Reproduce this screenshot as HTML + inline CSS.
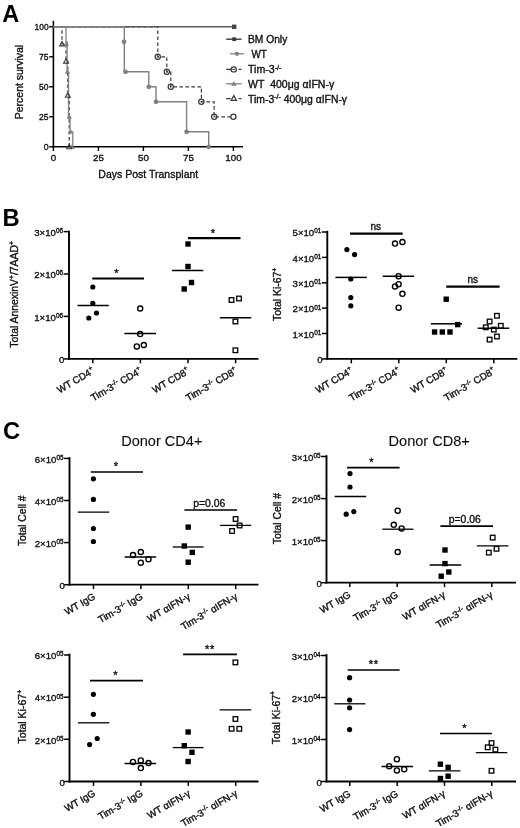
<!DOCTYPE html>
<html><head><meta charset="utf-8"><title>Figure</title>
<style>
html,body{margin:0;padding:0;background:#fff;}
svg{display:block;font-family:"Liberation Sans", sans-serif;}
</style></head>
<body>
<svg width="520" height="828" viewBox="0 0 520 828">
<defs><filter id="soft" x="0" y="0" width="520" height="828" filterUnits="userSpaceOnUse"><feGaussianBlur stdDeviation="0.4"/></filter></defs>
<rect width="520" height="828" fill="#fff"/>
<g filter="url(#soft)">
<text transform="translate(2.2 21.7)" font-size="23.5" text-anchor="start" font-weight="bold" fill="#000" stroke="#000" stroke-width="0" >A</text>
<line x1="53.4" y1="20.8" x2="53.4" y2="147.55" stroke="#000" stroke-width="1.6" />
<line x1="52.6" y1="146.8" x2="243" y2="146.8" stroke="#000" stroke-width="1.6" />
<line x1="49.2" y1="26.799999999999997" x2="53.4" y2="26.799999999999997" stroke="#000" stroke-width="1.4" />
<text transform="translate(48.6 30.199999999999996) scale(0.8657 1)" font-size="9.7" text-anchor="end" font-weight="normal" fill="#0a0a0a" stroke="#0a0a0a" stroke-width="0.32" >100</text>
<line x1="49.2" y1="56.8" x2="53.4" y2="56.8" stroke="#000" stroke-width="1.4" />
<text transform="translate(48.6 60.199999999999996) scale(0.8812 1)" font-size="9.7" text-anchor="end" font-weight="normal" fill="#0a0a0a" stroke="#0a0a0a" stroke-width="0.32" >75</text>
<line x1="49.2" y1="86.80000000000001" x2="53.4" y2="86.80000000000001" stroke="#000" stroke-width="1.4" />
<text transform="translate(48.6 90.20000000000002) scale(0.8812 1)" font-size="9.7" text-anchor="end" font-weight="normal" fill="#0a0a0a" stroke="#0a0a0a" stroke-width="0.32" >50</text>
<line x1="49.2" y1="116.80000000000001" x2="53.4" y2="116.80000000000001" stroke="#000" stroke-width="1.4" />
<text transform="translate(48.6 120.20000000000002) scale(0.8812 1)" font-size="9.7" text-anchor="end" font-weight="normal" fill="#0a0a0a" stroke="#0a0a0a" stroke-width="0.32" >25</text>
<line x1="49.2" y1="146.8" x2="53.4" y2="146.8" stroke="#000" stroke-width="1.4" />
<text transform="translate(48.6 150.20000000000002) scale(0.9090 1)" font-size="9.7" text-anchor="end" font-weight="normal" fill="#0a0a0a" stroke="#0a0a0a" stroke-width="0.32" >0</text>
<line x1="53.4" y1="146.8" x2="53.4" y2="151" stroke="#000" stroke-width="1.4" />
<text transform="translate(53.4 160.9)" font-size="9.8" text-anchor="middle" font-weight="normal" fill="#0a0a0a" stroke="#0a0a0a" stroke-width="0.32" >0</text>
<line x1="98.4" y1="146.8" x2="98.4" y2="151" stroke="#000" stroke-width="1.4" />
<text transform="translate(98.4 160.9)" font-size="9.8" text-anchor="middle" font-weight="normal" fill="#0a0a0a" stroke="#0a0a0a" stroke-width="0.32" >25</text>
<line x1="143.4" y1="146.8" x2="143.4" y2="151" stroke="#000" stroke-width="1.4" />
<text transform="translate(143.4 160.9)" font-size="9.8" text-anchor="middle" font-weight="normal" fill="#0a0a0a" stroke="#0a0a0a" stroke-width="0.32" >50</text>
<line x1="188.4" y1="146.8" x2="188.4" y2="151" stroke="#000" stroke-width="1.4" />
<text transform="translate(188.4 160.9)" font-size="9.8" text-anchor="middle" font-weight="normal" fill="#0a0a0a" stroke="#0a0a0a" stroke-width="0.32" >75</text>
<line x1="233.4" y1="146.8" x2="233.4" y2="151" stroke="#000" stroke-width="1.4" />
<text transform="translate(233.4 160.9)" font-size="9.8" text-anchor="middle" font-weight="normal" fill="#0a0a0a" stroke="#0a0a0a" stroke-width="0.32" >100</text>
<text transform="translate(22.6 82) rotate(-90) scale(0.9519 1)" font-size="11" text-anchor="middle" font-weight="normal" fill="#0a0a0a" stroke="#0a0a0a" stroke-width="0.32" >Percent survival</text>
<text transform="translate(148.3 178.4) scale(0.9744 1)" font-size="10.8" text-anchor="middle" font-weight="normal" fill="#0a0a0a" stroke="#0a0a0a" stroke-width="0.32" >Days Post Transplant</text>
<polyline fill="none" stroke="#3a3a3a" stroke-width="1.2" stroke-dasharray="3.6 2.4" points="53.4,26.8 157.8,26.8 157.8,56.8 166.8,56.8 166.8,71.8 170.8,71.8 170.8,86.8 201.4,86.8 201.4,101.8 214.1,101.8 214.1,116.8 233.4,116.8"/>
<polyline fill="none" stroke="#3a3a3a" stroke-width="1.2" stroke-dasharray="3.6 2.4" points="53.4,26.8 62.0,26.8 62.0,44.0 66.0,44.0 66.0,61.1 67.8,61.1 67.8,95.3 69.2,95.3 69.2,146.8"/>
<line x1="53.4" y1="26.8" x2="233.4" y2="26.8" stroke="#5a5a5a" stroke-width="1.4" />
<polyline fill="none" stroke="#808080" stroke-width="1.4"  points="53.4,26.8 124.3,26.8 124.3,71.8 148.8,71.8 148.8,86.8 156.0,86.8 156.0,101.8 186.6,101.8 186.6,131.8 208.7,131.8 208.7,146.8"/>
<polyline fill="none" stroke="#808080" stroke-width="1.3"  points="53.4,26.8 66.0,26.8 66.0,41.8 67.1,41.8 67.1,71.8 68.5,71.8 68.5,116.8 70.0,116.8 70.0,131.8 72.8,131.8 72.8,146.8"/>
<circle cx="123.96000000000001" cy="41.8" r="2.4" fill="#808080"/>
<circle cx="125.58000000000001" cy="71.8" r="2.4" fill="#808080"/>
<circle cx="148.8" cy="86.80000000000001" r="2.4" fill="#808080"/>
<circle cx="156.0" cy="101.80000000000001" r="2.4" fill="#808080"/>
<circle cx="186.60000000000002" cy="131.8" r="2.4" fill="#808080"/>
<circle cx="208.74" cy="146.8" r="2.4" fill="#808080"/>
<polygon points="66.36,41.39999999999999 64.16,45.35999999999999 68.56,45.35999999999999" fill="#808080" stroke="#808080" stroke-width="0.6"/>
<polygon points="67.44,69.6 65.24,73.56 69.64,73.56" fill="#808080" stroke="#808080" stroke-width="0.6"/>
<polygon points="69.24,114.60000000000001 67.03999999999999,118.56000000000002 71.44,118.56000000000002" fill="#808080" stroke="#808080" stroke-width="0.6"/>
<polygon points="70.68,129.60000000000002 68.48,133.56 72.88000000000001,133.56" fill="#808080" stroke="#808080" stroke-width="0.6"/>
<polygon points="72.12,144.60000000000002 69.92,148.56 74.32000000000001,148.56" fill="#808080" stroke="#808080" stroke-width="0.6"/>
<circle cx="157.8" cy="56.8" r="2.6" fill="none" stroke="#3a3a3a" stroke-width="1.25"/>
<circle cx="157.8" cy="56.8" r="0.8" fill="#3a3a3a"/>
<circle cx="166.8" cy="71.8" r="2.6" fill="none" stroke="#3a3a3a" stroke-width="1.25"/>
<circle cx="166.8" cy="71.8" r="0.8" fill="#3a3a3a"/>
<circle cx="170.76000000000002" cy="86.80000000000001" r="2.6" fill="none" stroke="#3a3a3a" stroke-width="1.25"/>
<circle cx="170.76000000000002" cy="86.80000000000001" r="0.8" fill="#3a3a3a"/>
<circle cx="201.36" cy="101.80000000000001" r="2.6" fill="none" stroke="#3a3a3a" stroke-width="1.25"/>
<circle cx="201.36" cy="101.80000000000001" r="0.8" fill="#3a3a3a"/>
<circle cx="214.14000000000001" cy="116.80000000000001" r="2.6" fill="none" stroke="#3a3a3a" stroke-width="1.25"/>
<circle cx="214.14000000000001" cy="116.80000000000001" r="0.8" fill="#3a3a3a"/>
<circle cx="233.4" cy="116.80000000000001" r="2.6" fill="#fff" stroke="#3a3a3a" stroke-width="1.25"/>
<polygon points="62.04,41.50999999999999 59.589999999999996,45.919999999999995 64.49,45.919999999999995" fill="none" stroke="#3a3a3a" stroke-width="1.1"/>
<polygon points="66.0,58.66999999999999 63.55,63.07999999999999 68.45,63.07999999999999" fill="none" stroke="#3a3a3a" stroke-width="1.1"/>
<polygon points="67.8,92.87000000000002 65.35,97.28000000000002 70.25,97.28000000000002" fill="none" stroke="#3a3a3a" stroke-width="1.1"/>
<polygon points="69.24,144.35000000000002 66.78999999999999,148.76000000000002 71.69,148.76000000000002" fill="none" stroke="#3a3a3a" stroke-width="1.1"/>
<rect x="232.00000000000003" y="24.6" width="4.4" height="4.4" fill="#444"/>
<line x1="226.2" y1="39.2" x2="241.5" y2="39.2" stroke="#3a3a3a" stroke-width="1.4" />
<rect x="232.29999999999998" y="37.300000000000004" width="3.8" height="3.8" fill="#3a3a3a"/>
<text transform="translate(248 42.900000000000006) scale(0.9864 1)" font-size="10.4" text-anchor="start" font-weight="normal" fill="#0a0a0a" stroke="#0a0a0a" stroke-width="0.32" >BM Only</text>
<line x1="230" y1="53.8" x2="243.8" y2="53.8" stroke="#808080" stroke-width="1.3" />
<circle cx="236.9" cy="53.8" r="2.1" fill="#808080"/>
<text transform="translate(251.5 57.699999999999996) scale(0.9532 1)" font-size="10.4" text-anchor="start" font-weight="normal" fill="#0a0a0a" stroke="#0a0a0a" stroke-width="0.32" >WT</text>
<line x1="226.2" y1="69.4" x2="231.1" y2="69.4" stroke="#3a3a3a" stroke-width="1.3" />
<line x1="238.6" y1="69.4" x2="241.5" y2="69.4" stroke="#3a3a3a" stroke-width="1.3" />
<circle cx="233.7" cy="69.4" r="2.6" fill="none" stroke="#3a3a3a" stroke-width="1.2"/>
<line x1="232.2" y1="69.4" x2="235.2" y2="69.4" stroke="#3a3a3a" stroke-width="1.0" />
<text transform="translate(248 73.10000000000001) scale(1.0219 1)" font-size="10.4" text-anchor="start" font-weight="normal" fill="#0a0a0a" stroke="#0a0a0a" stroke-width="0.32" >Tim-3<tspan font-size="7" dy="-3.6">-/-</tspan><tspan dy="3.6" font-size="1">&#8203;</tspan></text>
<line x1="226.2" y1="83.8" x2="241.5" y2="83.8" stroke="#808080" stroke-width="1.3" />
<polygon points="233.8,81.6 231.60000000000002,85.56 236.0,85.56" fill="#808080" stroke="#808080" stroke-width="0.6"/>
<text transform="translate(248 87.7) scale(1.0102 1)" font-size="10.4" text-anchor="start" font-weight="normal" fill="#0a0a0a" stroke="#0a0a0a" stroke-width="0.32" >WT&#160; 400&#956;g &#945;IFN-&#947;</text>
<line x1="226.2" y1="98.6" x2="230.6" y2="98.6" stroke="#3a3a3a" stroke-width="1.3" />
<line x1="238.6" y1="98.6" x2="241.5" y2="98.6" stroke="#3a3a3a" stroke-width="1.3" />
<polygon points="233.8,95.6 231.10000000000002,100.46 236.5,100.46" fill="none" stroke="#3a3a3a" stroke-width="1.2"/>
<text transform="translate(248 102.5)" font-size="10.4" text-anchor="start" font-weight="normal" fill="#0a0a0a" stroke="#0a0a0a" stroke-width="0.32" >Tim-3<tspan font-size="7" dy="-3.6">-/-</tspan><tspan dy="3.6" font-size="1">&#8203;</tspan> 400&#956;g &#945;IFN-&#947;</text>
<text transform="translate(2.6 226)" font-size="23.8" text-anchor="start" font-weight="bold" fill="#000" stroke="#000" stroke-width="0" >B</text>
<line x1="69" y1="230.79999999999998" x2="69" y2="359.79999999999995" stroke="#000" stroke-width="1.9" />
<line x1="68.05" y1="358.9" x2="258.5" y2="358.9" stroke="#000" stroke-width="1.8" />
<line x1="63.6" y1="231.6" x2="69" y2="231.6" stroke="#000" stroke-width="1.5" />
<text transform="translate(63.0 235.79999999999998)" font-size="9.6" text-anchor="end" font-weight="normal" fill="#0a0a0a" stroke="#0a0a0a" stroke-width="0.32" >3&#215;10<tspan font-size="6.4" dy="-2.8">06</tspan><tspan dy="2.8" font-size="1">&#8203;</tspan></text>
<line x1="63.6" y1="274" x2="69" y2="274" stroke="#000" stroke-width="1.5" />
<text transform="translate(63.0 278.2)" font-size="9.6" text-anchor="end" font-weight="normal" fill="#0a0a0a" stroke="#0a0a0a" stroke-width="0.32" >2&#215;10<tspan font-size="6.4" dy="-2.8">06</tspan><tspan dy="2.8" font-size="1">&#8203;</tspan></text>
<line x1="63.6" y1="316.4" x2="69" y2="316.4" stroke="#000" stroke-width="1.5" />
<text transform="translate(63.0 320.59999999999997)" font-size="9.6" text-anchor="end" font-weight="normal" fill="#0a0a0a" stroke="#0a0a0a" stroke-width="0.32" >1&#215;10<tspan font-size="6.4" dy="-2.8">06</tspan><tspan dy="2.8" font-size="1">&#8203;</tspan></text>
<line x1="63.6" y1="358.9" x2="69" y2="358.9" stroke="#000" stroke-width="1.5" />
<text transform="translate(64.4 363.09999999999997)" font-size="9.6" text-anchor="end" font-weight="normal" fill="#0a0a0a" stroke="#0a0a0a" stroke-width="0.32" >0</text>
<line x1="92.8" y1="358.9" x2="92.8" y2="363.29999999999995" stroke="#000" stroke-width="1.5" />
<line x1="140.4" y1="358.9" x2="140.4" y2="363.29999999999995" stroke="#000" stroke-width="1.5" />
<line x1="188" y1="358.9" x2="188" y2="363.29999999999995" stroke="#000" stroke-width="1.5" />
<line x1="235.6" y1="358.9" x2="235.6" y2="363.29999999999995" stroke="#000" stroke-width="1.5" />
<line x1="77.5" y1="305.5" x2="108.8" y2="305.5" stroke="#000" stroke-width="1.5" />
<line x1="124.4" y1="333.5" x2="156" y2="333.5" stroke="#000" stroke-width="1.5" />
<line x1="171.8" y1="270.5" x2="203.3" y2="270.5" stroke="#000" stroke-width="1.5" />
<line x1="219.8" y1="317.7" x2="251.2" y2="317.7" stroke="#000" stroke-width="1.5" />
<circle cx="92.8" cy="287" r="2.6" fill="#000"/>
<circle cx="92.8" cy="303.3" r="2.6" fill="#000"/>
<circle cx="96.5" cy="313" r="2.6" fill="#000"/>
<circle cx="88.8" cy="318" r="2.6" fill="#000"/>
<circle cx="140.2" cy="308.5" r="2.55" fill="none" stroke="#000" stroke-width="1.4"/>
<circle cx="140.2" cy="334.1" r="2.55" fill="none" stroke="#000" stroke-width="1.4"/>
<circle cx="143.8" cy="345" r="2.55" fill="none" stroke="#000" stroke-width="1.4"/>
<circle cx="136.8" cy="346.4" r="2.55" fill="none" stroke="#000" stroke-width="1.4"/>
<rect x="185.3" y="241.3" width="5.4" height="5.4" fill="#000"/>
<rect x="185.3" y="263.8" width="5.4" height="5.4" fill="#000"/>
<rect x="188.8" y="279.8" width="5.4" height="5.4" fill="#000"/>
<rect x="181.5" y="286.3" width="5.4" height="5.4" fill="#000"/>
<rect x="229.2" y="297.7" width="4.6" height="4.6" fill="none" stroke="#000" stroke-width="1.3"/>
<rect x="236.7" y="296.2" width="4.6" height="4.6" fill="none" stroke="#000" stroke-width="1.3"/>
<rect x="233.1" y="319.2" width="4.6" height="4.6" fill="none" stroke="#000" stroke-width="1.3"/>
<rect x="233.1" y="348.0" width="4.6" height="4.6" fill="none" stroke="#000" stroke-width="1.3"/>
<line x1="92.3" y1="278.5" x2="144" y2="278.5" stroke="#000" stroke-width="2.2" />
<text transform="translate(116.5 277)" font-size="11" text-anchor="middle" font-weight="normal" fill="#0a0a0a" stroke="#0a0a0a" stroke-width="0.32" >*</text>
<line x1="188" y1="238.2" x2="240.5" y2="238.2" stroke="#000" stroke-width="2.2" />
<text transform="translate(213 237)" font-size="11" text-anchor="middle" font-weight="normal" fill="#0a0a0a" stroke="#0a0a0a" stroke-width="0.32" >*</text>
<text transform="translate(18.4 294.4) rotate(-90) scale(1.0392 1)" font-size="10" text-anchor="middle" font-weight="normal" fill="#0a0a0a" stroke="#0a0a0a" stroke-width="0.32" >Total AnnexinV<tspan font-size="6.5" dy="-4.3">+</tspan><tspan dy="4.3" font-size="1">&#8203;</tspan>/7AAD<tspan font-size="6.5" dy="-4.3">+</tspan><tspan dy="4.3" font-size="1">&#8203;</tspan></text>
<text transform="translate(95.1 372.79999999999995) rotate(-30)" font-size="9.8" text-anchor="end" font-weight="normal" fill="#0a0a0a" stroke="#0a0a0a" stroke-width="0.32" >WT CD4<tspan font-size="6.5" dy="-4.3">+</tspan><tspan dy="4.3" font-size="1">&#8203;</tspan></text>
<text transform="translate(142.7 372.79999999999995) rotate(-30)" font-size="9.8" text-anchor="end" font-weight="normal" fill="#0a0a0a" stroke="#0a0a0a" stroke-width="0.32" >Tim-3<tspan font-size="6.8" dy="-3.4">-/-</tspan><tspan dy="3.4" font-size="1">&#8203;</tspan> CD4<tspan font-size="6.5" dy="-4.3">+</tspan><tspan dy="4.3" font-size="1">&#8203;</tspan></text>
<text transform="translate(190.29999999999998 372.79999999999995) rotate(-30)" font-size="9.8" text-anchor="end" font-weight="normal" fill="#0a0a0a" stroke="#0a0a0a" stroke-width="0.32" >WT CD8<tspan font-size="6.5" dy="-4.3">+</tspan><tspan dy="4.3" font-size="1">&#8203;</tspan></text>
<text transform="translate(237.89999999999998 372.79999999999995) rotate(-30)" font-size="9.8" text-anchor="end" font-weight="normal" fill="#0a0a0a" stroke="#0a0a0a" stroke-width="0.32" >Tim-3<tspan font-size="6.8" dy="-3.4">-/-</tspan><tspan dy="3.4" font-size="1">&#8203;</tspan> CD8<tspan font-size="6.5" dy="-4.3">+</tspan><tspan dy="4.3" font-size="1">&#8203;</tspan></text>
<line x1="327.3" y1="230.79999999999998" x2="327.3" y2="359.79999999999995" stroke="#000" stroke-width="1.9" />
<line x1="326.35" y1="358.9" x2="517.3" y2="358.9" stroke="#000" stroke-width="1.8" />
<line x1="321.90000000000003" y1="232" x2="327.3" y2="232" stroke="#000" stroke-width="1.5" />
<text transform="translate(321.3 236.2)" font-size="9.6" text-anchor="end" font-weight="normal" fill="#0a0a0a" stroke="#0a0a0a" stroke-width="0.32" >5&#215;10<tspan font-size="6.4" dy="-2.8">01</tspan><tspan dy="2.8" font-size="1">&#8203;</tspan></text>
<line x1="321.90000000000003" y1="257.4" x2="327.3" y2="257.4" stroke="#000" stroke-width="1.5" />
<text transform="translate(321.3 261.59999999999997)" font-size="9.6" text-anchor="end" font-weight="normal" fill="#0a0a0a" stroke="#0a0a0a" stroke-width="0.32" >4&#215;10<tspan font-size="6.4" dy="-2.8">01</tspan><tspan dy="2.8" font-size="1">&#8203;</tspan></text>
<line x1="321.90000000000003" y1="282.8" x2="327.3" y2="282.8" stroke="#000" stroke-width="1.5" />
<text transform="translate(321.3 287.0)" font-size="9.6" text-anchor="end" font-weight="normal" fill="#0a0a0a" stroke="#0a0a0a" stroke-width="0.32" >3&#215;10<tspan font-size="6.4" dy="-2.8">01</tspan><tspan dy="2.8" font-size="1">&#8203;</tspan></text>
<line x1="321.90000000000003" y1="308.1" x2="327.3" y2="308.1" stroke="#000" stroke-width="1.5" />
<text transform="translate(321.3 312.3)" font-size="9.6" text-anchor="end" font-weight="normal" fill="#0a0a0a" stroke="#0a0a0a" stroke-width="0.32" >2&#215;10<tspan font-size="6.4" dy="-2.8">01</tspan><tspan dy="2.8" font-size="1">&#8203;</tspan></text>
<line x1="321.90000000000003" y1="333.5" x2="327.3" y2="333.5" stroke="#000" stroke-width="1.5" />
<text transform="translate(321.3 337.7)" font-size="9.6" text-anchor="end" font-weight="normal" fill="#0a0a0a" stroke="#0a0a0a" stroke-width="0.32" >1&#215;10<tspan font-size="6.4" dy="-2.8">01</tspan><tspan dy="2.8" font-size="1">&#8203;</tspan></text>
<line x1="321.90000000000003" y1="358.9" x2="327.3" y2="358.9" stroke="#000" stroke-width="1.5" />
<text transform="translate(322.7 363.09999999999997)" font-size="9.6" text-anchor="end" font-weight="normal" fill="#0a0a0a" stroke="#0a0a0a" stroke-width="0.32" >0</text>
<line x1="351.3" y1="358.9" x2="351.3" y2="363.29999999999995" stroke="#000" stroke-width="1.5" />
<line x1="398.8" y1="358.9" x2="398.8" y2="363.29999999999995" stroke="#000" stroke-width="1.5" />
<line x1="446.3" y1="358.9" x2="446.3" y2="363.29999999999995" stroke="#000" stroke-width="1.5" />
<line x1="493.8" y1="358.9" x2="493.8" y2="363.29999999999995" stroke="#000" stroke-width="1.5" />
<line x1="335.4" y1="277.4" x2="366.9" y2="277.4" stroke="#000" stroke-width="1.5" />
<line x1="382.7" y1="276.3" x2="414.2" y2="276.3" stroke="#000" stroke-width="1.5" />
<line x1="430.8" y1="323.8" x2="462" y2="323.8" stroke="#000" stroke-width="1.5" />
<line x1="477.7" y1="328.2" x2="509.2" y2="328.2" stroke="#000" stroke-width="1.5" />
<circle cx="346.9" cy="249.6" r="2.6" fill="#000"/>
<circle cx="354.6" cy="254.6" r="2.6" fill="#000"/>
<circle cx="350.8" cy="279" r="2.6" fill="#000"/>
<circle cx="350.8" cy="297.6" r="2.6" fill="#000"/>
<circle cx="350.8" cy="305.8" r="2.6" fill="#000"/>
<circle cx="395" cy="243.6" r="2.55" fill="none" stroke="#000" stroke-width="1.4"/>
<circle cx="402.4" cy="242" r="2.55" fill="none" stroke="#000" stroke-width="1.4"/>
<circle cx="398.6" cy="276.2" r="2.55" fill="none" stroke="#000" stroke-width="1.4"/>
<circle cx="398.6" cy="284.2" r="2.55" fill="none" stroke="#000" stroke-width="1.4"/>
<circle cx="395" cy="286.4" r="2.55" fill="none" stroke="#000" stroke-width="1.4"/>
<circle cx="402.4" cy="293.8" r="2.55" fill="none" stroke="#000" stroke-width="1.4"/>
<circle cx="398.6" cy="307.7" r="2.55" fill="none" stroke="#000" stroke-width="1.4"/>
<rect x="443.5" y="296.5" width="5.4" height="5.4" fill="#000"/>
<rect x="455.0" y="321.90000000000003" width="5.4" height="5.4" fill="#000"/>
<rect x="431.90000000000003" y="329.3" width="5.4" height="5.4" fill="#000"/>
<rect x="439.6" y="329.3" width="5.4" height="5.4" fill="#000"/>
<rect x="447.3" y="329.3" width="5.4" height="5.4" fill="#000"/>
<rect x="494.59999999999997" y="313.5" width="4.6" height="4.6" fill="none" stroke="#000" stroke-width="1.3"/>
<rect x="487.3" y="319.2" width="4.6" height="4.6" fill="none" stroke="#000" stroke-width="1.3"/>
<rect x="498.5" y="323.5" width="4.6" height="4.6" fill="none" stroke="#000" stroke-width="1.3"/>
<rect x="483.5" y="325.0" width="4.6" height="4.6" fill="none" stroke="#000" stroke-width="1.3"/>
<rect x="491.5" y="327.3" width="4.6" height="4.6" fill="none" stroke="#000" stroke-width="1.3"/>
<rect x="494.59999999999997" y="334.2" width="4.6" height="4.6" fill="none" stroke="#000" stroke-width="1.3"/>
<rect x="487.3" y="337.3" width="4.6" height="4.6" fill="none" stroke="#000" stroke-width="1.3"/>
<line x1="350" y1="233.7" x2="402.7" y2="233.7" stroke="#000" stroke-width="2.2" />
<text transform="translate(375.8 229.6)" font-size="10" text-anchor="middle" font-weight="normal" fill="#0a0a0a" stroke="#0a0a0a" stroke-width="0.32" >ns</text>
<line x1="446.2" y1="286.6" x2="499.6" y2="286.6" stroke="#000" stroke-width="2.2" />
<text transform="translate(472.8 282.6)" font-size="10" text-anchor="middle" font-weight="normal" fill="#0a0a0a" stroke="#0a0a0a" stroke-width="0.32" >ns</text>
<text transform="translate(281 294.4) rotate(-90) scale(1.0461 1)" font-size="10" text-anchor="middle" font-weight="normal" fill="#0a0a0a" stroke="#0a0a0a" stroke-width="0.32" >Total Ki-67<tspan font-size="6.5" dy="-4.3">+</tspan><tspan dy="4.3" font-size="1">&#8203;</tspan></text>
<text transform="translate(353.6 372.79999999999995) rotate(-30)" font-size="9.8" text-anchor="end" font-weight="normal" fill="#0a0a0a" stroke="#0a0a0a" stroke-width="0.32" >WT CD4<tspan font-size="6.5" dy="-4.3">+</tspan><tspan dy="4.3" font-size="1">&#8203;</tspan></text>
<text transform="translate(401.1 372.79999999999995) rotate(-30)" font-size="9.8" text-anchor="end" font-weight="normal" fill="#0a0a0a" stroke="#0a0a0a" stroke-width="0.32" >Tim-3<tspan font-size="6.8" dy="-3.4">-/-</tspan><tspan dy="3.4" font-size="1">&#8203;</tspan> CD4<tspan font-size="6.5" dy="-4.3">+</tspan><tspan dy="4.3" font-size="1">&#8203;</tspan></text>
<text transform="translate(448.6 372.79999999999995) rotate(-30)" font-size="9.8" text-anchor="end" font-weight="normal" fill="#0a0a0a" stroke="#0a0a0a" stroke-width="0.32" >WT CD8<tspan font-size="6.5" dy="-4.3">+</tspan><tspan dy="4.3" font-size="1">&#8203;</tspan></text>
<text transform="translate(496.1 372.79999999999995) rotate(-30)" font-size="9.8" text-anchor="end" font-weight="normal" fill="#0a0a0a" stroke="#0a0a0a" stroke-width="0.32" >Tim-3<tspan font-size="6.8" dy="-3.4">-/-</tspan><tspan dy="3.4" font-size="1">&#8203;</tspan> CD8<tspan font-size="6.5" dy="-4.3">+</tspan><tspan dy="4.3" font-size="1">&#8203;</tspan></text>
<text transform="translate(3.0 438.7)" font-size="23.8" text-anchor="start" font-weight="bold" fill="#000" stroke="#000" stroke-width="0" >C</text>
<line x1="69.5" y1="457.2" x2="69.5" y2="585.6" stroke="#000" stroke-width="1.9" />
<line x1="68.55" y1="584.7" x2="258.5" y2="584.7" stroke="#000" stroke-width="1.8" />
<line x1="64.1" y1="458.4" x2="69.5" y2="458.4" stroke="#000" stroke-width="1.5" />
<text transform="translate(63.5 462.59999999999997)" font-size="9.6" text-anchor="end" font-weight="normal" fill="#0a0a0a" stroke="#0a0a0a" stroke-width="0.32" >6&#215;10<tspan font-size="6.4" dy="-2.8">05</tspan><tspan dy="2.8" font-size="1">&#8203;</tspan></text>
<line x1="64.1" y1="500.5" x2="69.5" y2="500.5" stroke="#000" stroke-width="1.5" />
<text transform="translate(63.5 504.7)" font-size="9.6" text-anchor="end" font-weight="normal" fill="#0a0a0a" stroke="#0a0a0a" stroke-width="0.32" >4&#215;10<tspan font-size="6.4" dy="-2.8">05</tspan><tspan dy="2.8" font-size="1">&#8203;</tspan></text>
<line x1="64.1" y1="542.6" x2="69.5" y2="542.6" stroke="#000" stroke-width="1.5" />
<text transform="translate(63.5 546.8000000000001)" font-size="9.6" text-anchor="end" font-weight="normal" fill="#0a0a0a" stroke="#0a0a0a" stroke-width="0.32" >2&#215;10<tspan font-size="6.4" dy="-2.8">05</tspan><tspan dy="2.8" font-size="1">&#8203;</tspan></text>
<line x1="64.1" y1="584.7" x2="69.5" y2="584.7" stroke="#000" stroke-width="1.5" />
<text transform="translate(64.9 588.9000000000001)" font-size="9.6" text-anchor="end" font-weight="normal" fill="#0a0a0a" stroke="#0a0a0a" stroke-width="0.32" >0</text>
<line x1="93.5" y1="584.7" x2="93.5" y2="589.1" stroke="#000" stroke-width="1.5" />
<line x1="140.9" y1="584.7" x2="140.9" y2="589.1" stroke="#000" stroke-width="1.5" />
<line x1="188.3" y1="584.7" x2="188.3" y2="589.1" stroke="#000" stroke-width="1.5" />
<line x1="235.7" y1="584.7" x2="235.7" y2="589.1" stroke="#000" stroke-width="1.5" />
<line x1="77.8" y1="512.2" x2="109.2" y2="512.2" stroke="#000" stroke-width="1.3" />
<line x1="124.6" y1="557" x2="156.2" y2="557" stroke="#000" stroke-width="1.3" />
<line x1="172.7" y1="547" x2="203.6" y2="547" stroke="#000" stroke-width="1.3" />
<line x1="220" y1="525.4" x2="251.2" y2="525.4" stroke="#000" stroke-width="1.3" />
<circle cx="93.4" cy="478.8" r="2.6" fill="#000"/>
<circle cx="93.4" cy="499.4" r="2.6" fill="#000"/>
<circle cx="93.4" cy="528.5" r="2.6" fill="#000"/>
<circle cx="93.4" cy="541.5" r="2.6" fill="#000"/>
<circle cx="133" cy="555" r="2.55" fill="none" stroke="#000" stroke-width="1.4"/>
<circle cx="140.8" cy="552" r="2.55" fill="none" stroke="#000" stroke-width="1.4"/>
<circle cx="148.5" cy="559.2" r="2.55" fill="none" stroke="#000" stroke-width="1.4"/>
<circle cx="140.8" cy="562.7" r="2.55" fill="none" stroke="#000" stroke-width="1.4"/>
<rect x="185.5" y="524.4" width="5.4" height="5.4" fill="#000"/>
<rect x="181.60000000000002" y="543.3" width="5.4" height="5.4" fill="#000"/>
<rect x="189.60000000000002" y="549.6999999999999" width="5.4" height="5.4" fill="#000"/>
<rect x="185.5" y="559.5" width="5.4" height="5.4" fill="#000"/>
<rect x="233.29999999999998" y="516.7" width="4.6" height="4.6" fill="none" stroke="#000" stroke-width="1.3"/>
<rect x="237.29999999999998" y="523.2" width="4.6" height="4.6" fill="none" stroke="#000" stroke-width="1.3"/>
<rect x="229.79999999999998" y="528.7" width="4.6" height="4.6" fill="none" stroke="#000" stroke-width="1.3"/>
<line x1="90.8" y1="472" x2="143" y2="472" stroke="#000" stroke-width="1.7" />
<text transform="translate(115.8 470.4)" font-size="11" text-anchor="middle" font-weight="normal" fill="#0a0a0a" stroke="#0a0a0a" stroke-width="0.32" >*</text>
<line x1="184.4" y1="510" x2="237.1" y2="510" stroke="#000" stroke-width="1.7" />
<text transform="translate(209.3 506.6)" font-size="10.4" text-anchor="middle" font-weight="normal" fill="#0a0a0a" stroke="#0a0a0a" stroke-width="0.32" >p=0.06</text>
<text transform="translate(25.7 520.8) rotate(-90) scale(1.0249 1)" font-size="10" text-anchor="middle" font-weight="normal" fill="#0a0a0a" stroke="#0a0a0a" stroke-width="0.32" >Total Cell #</text>
<text transform="translate(96.1 598.5000000000001) rotate(-30)" font-size="9.8" text-anchor="end" font-weight="normal" fill="#0a0a0a" stroke="#0a0a0a" stroke-width="0.32" >WT IgG</text>
<text transform="translate(143.5 598.5000000000001) rotate(-30)" font-size="9.8" text-anchor="end" font-weight="normal" fill="#0a0a0a" stroke="#0a0a0a" stroke-width="0.32" >Tim-3<tspan font-size="6.8" dy="-3.4">-/-</tspan><tspan dy="3.4" font-size="1">&#8203;</tspan> IgG</text>
<text transform="translate(190.9 598.5000000000001) rotate(-30)" font-size="9.8" text-anchor="end" font-weight="normal" fill="#0a0a0a" stroke="#0a0a0a" stroke-width="0.32" >WT &#945;IFN-&#947;</text>
<text transform="translate(238.29999999999998 598.5000000000001) rotate(-30)" font-size="9.8" text-anchor="end" font-weight="normal" fill="#0a0a0a" stroke="#0a0a0a" stroke-width="0.32" >Tim-3<tspan font-size="6.8" dy="-3.4">-/-</tspan><tspan dy="3.4" font-size="1">&#8203;</tspan> &#945;IFN-&#947;</text>
<text transform="translate(161.8 446.3) scale(1.0396 1)" font-size="14" text-anchor="middle" font-weight="normal" fill="#111" stroke="#111" stroke-width="0.1" >Donor CD4+</text>
<line x1="326.5" y1="455.2" x2="326.5" y2="583.6" stroke="#000" stroke-width="1.9" />
<line x1="325.55" y1="582.7" x2="516" y2="582.7" stroke="#000" stroke-width="1.8" />
<line x1="321.1" y1="456.5" x2="326.5" y2="456.5" stroke="#000" stroke-width="1.5" />
<text transform="translate(320.5 460.7)" font-size="9.6" text-anchor="end" font-weight="normal" fill="#0a0a0a" stroke="#0a0a0a" stroke-width="0.32" >3&#215;10<tspan font-size="6.4" dy="-2.8">05</tspan><tspan dy="2.8" font-size="1">&#8203;</tspan></text>
<line x1="321.1" y1="498.6" x2="326.5" y2="498.6" stroke="#000" stroke-width="1.5" />
<text transform="translate(320.5 502.8)" font-size="9.6" text-anchor="end" font-weight="normal" fill="#0a0a0a" stroke="#0a0a0a" stroke-width="0.32" >2&#215;10<tspan font-size="6.4" dy="-2.8">05</tspan><tspan dy="2.8" font-size="1">&#8203;</tspan></text>
<line x1="321.1" y1="540.6" x2="326.5" y2="540.6" stroke="#000" stroke-width="1.5" />
<text transform="translate(320.5 544.8000000000001)" font-size="9.6" text-anchor="end" font-weight="normal" fill="#0a0a0a" stroke="#0a0a0a" stroke-width="0.32" >1&#215;10<tspan font-size="6.4" dy="-2.8">05</tspan><tspan dy="2.8" font-size="1">&#8203;</tspan></text>
<line x1="321.1" y1="582.7" x2="326.5" y2="582.7" stroke="#000" stroke-width="1.5" />
<text transform="translate(321.9 586.9000000000001)" font-size="9.6" text-anchor="end" font-weight="normal" fill="#0a0a0a" stroke="#0a0a0a" stroke-width="0.32" >0</text>
<line x1="349.8" y1="582.7" x2="349.8" y2="587.1" stroke="#000" stroke-width="1.5" />
<line x1="397.2" y1="582.7" x2="397.2" y2="587.1" stroke="#000" stroke-width="1.5" />
<line x1="444.5" y1="582.7" x2="444.5" y2="587.1" stroke="#000" stroke-width="1.5" />
<line x1="491.8" y1="582.7" x2="491.8" y2="587.1" stroke="#000" stroke-width="1.5" />
<line x1="334.6" y1="496.5" x2="366.2" y2="496.5" stroke="#000" stroke-width="1.3" />
<line x1="382.3" y1="529.2" x2="413.5" y2="529.2" stroke="#000" stroke-width="1.3" />
<line x1="429.6" y1="565" x2="461.2" y2="565" stroke="#000" stroke-width="1.3" />
<line x1="476.9" y1="545.8" x2="508.4" y2="545.8" stroke="#000" stroke-width="1.3" />
<circle cx="350" cy="473.6" r="2.6" fill="#000"/>
<circle cx="350" cy="487" r="2.6" fill="#000"/>
<circle cx="353.8" cy="511.6" r="2.6" fill="#000"/>
<circle cx="346.2" cy="514.2" r="2.6" fill="#000"/>
<circle cx="397.7" cy="510.7" r="2.55" fill="none" stroke="#000" stroke-width="1.4"/>
<circle cx="393.8" cy="524.8" r="2.55" fill="none" stroke="#000" stroke-width="1.4"/>
<circle cx="401.6" cy="528.4" r="2.55" fill="none" stroke="#000" stroke-width="1.4"/>
<circle cx="397.7" cy="552" r="2.55" fill="none" stroke="#000" stroke-width="1.4"/>
<rect x="442.3" y="547.3" width="5.4" height="5.4" fill="#000"/>
<rect x="442.3" y="560.9" width="5.4" height="5.4" fill="#000"/>
<rect x="446.1" y="569.3" width="5.4" height="5.4" fill="#000"/>
<rect x="438.5" y="573.5" width="5.4" height="5.4" fill="#000"/>
<rect x="490.4" y="535.3000000000001" width="4.6" height="4.6" fill="none" stroke="#000" stroke-width="1.3"/>
<rect x="494.2" y="546.5" width="4.6" height="4.6" fill="none" stroke="#000" stroke-width="1.3"/>
<rect x="486.5" y="550.3000000000001" width="4.6" height="4.6" fill="none" stroke="#000" stroke-width="1.3"/>
<line x1="347" y1="467.6" x2="399.6" y2="467.6" stroke="#000" stroke-width="1.7" />
<text transform="translate(371.4 466)" font-size="11" text-anchor="middle" font-weight="normal" fill="#0a0a0a" stroke="#0a0a0a" stroke-width="0.32" >*</text>
<line x1="440.4" y1="526.2" x2="493" y2="526.2" stroke="#000" stroke-width="1.7" />
<text transform="translate(464.8 522.6)" font-size="10.4" text-anchor="middle" font-weight="normal" fill="#0a0a0a" stroke="#0a0a0a" stroke-width="0.32" >p=0.06</text>
<text transform="translate(281.4 518.6) rotate(-90) scale(1.0350 1)" font-size="10" text-anchor="middle" font-weight="normal" fill="#0a0a0a" stroke="#0a0a0a" stroke-width="0.32" >Total Cell #</text>
<text transform="translate(351.40000000000003 596.8000000000001) rotate(-30)" font-size="9.8" text-anchor="end" font-weight="normal" fill="#0a0a0a" stroke="#0a0a0a" stroke-width="0.32" >WT IgG</text>
<text transform="translate(398.8 596.8000000000001) rotate(-30)" font-size="9.8" text-anchor="end" font-weight="normal" fill="#0a0a0a" stroke="#0a0a0a" stroke-width="0.32" >Tim-3<tspan font-size="6.8" dy="-3.4">-/-</tspan><tspan dy="3.4" font-size="1">&#8203;</tspan> IgG</text>
<text transform="translate(446.1 596.8000000000001) rotate(-30)" font-size="9.8" text-anchor="end" font-weight="normal" fill="#0a0a0a" stroke="#0a0a0a" stroke-width="0.32" >WT &#945;IFN-&#947;</text>
<text transform="translate(493.40000000000003 596.8000000000001) rotate(-30)" font-size="9.8" text-anchor="end" font-weight="normal" fill="#0a0a0a" stroke="#0a0a0a" stroke-width="0.32" >Tim-3<tspan font-size="6.8" dy="-3.4">-/-</tspan><tspan dy="3.4" font-size="1">&#8203;</tspan> &#945;IFN-&#947;</text>
<text transform="translate(429.2 446) scale(1.0396 1)" font-size="14" text-anchor="middle" font-weight="normal" fill="#111" stroke="#111" stroke-width="0.1" >Donor CD8+</text>
<line x1="69.5" y1="653.7" x2="69.5" y2="782.4" stroke="#000" stroke-width="1.9" />
<line x1="68.55" y1="781.5" x2="258.5" y2="781.5" stroke="#000" stroke-width="1.8" />
<line x1="64.1" y1="655" x2="69.5" y2="655" stroke="#000" stroke-width="1.5" />
<text transform="translate(63.5 659.2)" font-size="9.6" text-anchor="end" font-weight="normal" fill="#0a0a0a" stroke="#0a0a0a" stroke-width="0.32" >6&#215;10<tspan font-size="6.4" dy="-2.8">05</tspan><tspan dy="2.8" font-size="1">&#8203;</tspan></text>
<line x1="64.1" y1="697.2" x2="69.5" y2="697.2" stroke="#000" stroke-width="1.5" />
<text transform="translate(63.5 701.4000000000001)" font-size="9.6" text-anchor="end" font-weight="normal" fill="#0a0a0a" stroke="#0a0a0a" stroke-width="0.32" >4&#215;10<tspan font-size="6.4" dy="-2.8">05</tspan><tspan dy="2.8" font-size="1">&#8203;</tspan></text>
<line x1="64.1" y1="739.3" x2="69.5" y2="739.3" stroke="#000" stroke-width="1.5" />
<text transform="translate(63.5 743.5)" font-size="9.6" text-anchor="end" font-weight="normal" fill="#0a0a0a" stroke="#0a0a0a" stroke-width="0.32" >2&#215;10<tspan font-size="6.4" dy="-2.8">05</tspan><tspan dy="2.8" font-size="1">&#8203;</tspan></text>
<line x1="64.1" y1="781.5" x2="69.5" y2="781.5" stroke="#000" stroke-width="1.5" />
<text transform="translate(64.9 785.7)" font-size="9.6" text-anchor="end" font-weight="normal" fill="#0a0a0a" stroke="#0a0a0a" stroke-width="0.32" >0</text>
<line x1="93.5" y1="781.5" x2="93.5" y2="785.9" stroke="#000" stroke-width="1.5" />
<line x1="140.9" y1="781.5" x2="140.9" y2="785.9" stroke="#000" stroke-width="1.5" />
<line x1="188.3" y1="781.5" x2="188.3" y2="785.9" stroke="#000" stroke-width="1.5" />
<line x1="235.7" y1="781.5" x2="235.7" y2="785.9" stroke="#000" stroke-width="1.5" />
<line x1="78" y1="722.8" x2="109.2" y2="722.8" stroke="#000" stroke-width="1.3" />
<line x1="124.6" y1="763.5" x2="156.2" y2="763.5" stroke="#000" stroke-width="1.3" />
<line x1="172.7" y1="747.6" x2="203.5" y2="747.6" stroke="#000" stroke-width="1.3" />
<line x1="219.6" y1="709.8" x2="251.2" y2="709.8" stroke="#000" stroke-width="1.3" />
<circle cx="93.4" cy="694.3" r="2.6" fill="#000"/>
<circle cx="93.4" cy="714.3" r="2.6" fill="#000"/>
<circle cx="97.2" cy="738.5" r="2.6" fill="#000"/>
<circle cx="89.6" cy="744.6" r="2.6" fill="#000"/>
<circle cx="133" cy="761.9" r="2.55" fill="none" stroke="#000" stroke-width="1.4"/>
<circle cx="140.8" cy="760.4" r="2.55" fill="none" stroke="#000" stroke-width="1.4"/>
<circle cx="148.5" cy="763.1" r="2.55" fill="none" stroke="#000" stroke-width="1.4"/>
<circle cx="140.8" cy="768.1" r="2.55" fill="none" stroke="#000" stroke-width="1.4"/>
<rect x="185.4" y="729.3" width="5.4" height="5.4" fill="#000"/>
<rect x="181.60000000000002" y="743.0" width="5.4" height="5.4" fill="#000"/>
<rect x="189.3" y="749.5999999999999" width="5.4" height="5.4" fill="#000"/>
<rect x="185.4" y="758.8" width="5.4" height="5.4" fill="#000"/>
<rect x="233.1" y="660.1" width="4.6" height="4.6" fill="none" stroke="#000" stroke-width="1.3"/>
<rect x="233.1" y="716.7" width="4.6" height="4.6" fill="none" stroke="#000" stroke-width="1.3"/>
<rect x="229.29999999999998" y="726.5" width="4.6" height="4.6" fill="none" stroke="#000" stroke-width="1.3"/>
<rect x="237.0" y="726.5" width="4.6" height="4.6" fill="none" stroke="#000" stroke-width="1.3"/>
<line x1="90" y1="680.7" x2="143" y2="680.7" stroke="#000" stroke-width="1.7" />
<text transform="translate(115.3 679)" font-size="11" text-anchor="middle" font-weight="normal" fill="#0a0a0a" stroke="#0a0a0a" stroke-width="0.32" >*</text>
<line x1="183.1" y1="654.3" x2="236.9" y2="654.3" stroke="#000" stroke-width="1.7" />
<text transform="translate(210 653)" font-size="11" text-anchor="middle" font-weight="normal" fill="#0a0a0a" stroke="#0a0a0a" stroke-width="0.32" letter-spacing="0.7">**</text>
<text transform="translate(25.9 716.7) rotate(-90) scale(1.0539 1)" font-size="10" text-anchor="middle" font-weight="normal" fill="#0a0a0a" stroke="#0a0a0a" stroke-width="0.32" >Total Ki-67<tspan font-size="6.5" dy="-4.3">+</tspan><tspan dy="4.3" font-size="1">&#8203;</tspan></text>
<text transform="translate(96.1 795.3000000000001) rotate(-30)" font-size="9.8" text-anchor="end" font-weight="normal" fill="#0a0a0a" stroke="#0a0a0a" stroke-width="0.32" >WT IgG</text>
<text transform="translate(143.5 795.3000000000001) rotate(-30)" font-size="9.8" text-anchor="end" font-weight="normal" fill="#0a0a0a" stroke="#0a0a0a" stroke-width="0.32" >Tim-3<tspan font-size="6.8" dy="-3.4">-/-</tspan><tspan dy="3.4" font-size="1">&#8203;</tspan> IgG</text>
<text transform="translate(190.9 795.3000000000001) rotate(-30)" font-size="9.8" text-anchor="end" font-weight="normal" fill="#0a0a0a" stroke="#0a0a0a" stroke-width="0.32" >WT &#945;IFN-&#947;</text>
<text transform="translate(238.29999999999998 795.3000000000001) rotate(-30)" font-size="9.8" text-anchor="end" font-weight="normal" fill="#0a0a0a" stroke="#0a0a0a" stroke-width="0.32" >Tim-3<tspan font-size="6.8" dy="-3.4">-/-</tspan><tspan dy="3.4" font-size="1">&#8203;</tspan> &#945;IFN-&#947;</text>
<line x1="326.5" y1="654.2" x2="326.5" y2="782.4" stroke="#000" stroke-width="1.9" />
<line x1="325.55" y1="781.5" x2="516" y2="781.5" stroke="#000" stroke-width="1.8" />
<line x1="321.1" y1="655.5" x2="326.5" y2="655.5" stroke="#000" stroke-width="1.5" />
<text transform="translate(320.5 659.7)" font-size="9.6" text-anchor="end" font-weight="normal" fill="#0a0a0a" stroke="#0a0a0a" stroke-width="0.32" >3&#215;10<tspan font-size="6.4" dy="-2.8">04</tspan><tspan dy="2.8" font-size="1">&#8203;</tspan></text>
<line x1="321.1" y1="697.5" x2="326.5" y2="697.5" stroke="#000" stroke-width="1.5" />
<text transform="translate(320.5 701.7)" font-size="9.6" text-anchor="end" font-weight="normal" fill="#0a0a0a" stroke="#0a0a0a" stroke-width="0.32" >2&#215;10<tspan font-size="6.4" dy="-2.8">04</tspan><tspan dy="2.8" font-size="1">&#8203;</tspan></text>
<line x1="321.1" y1="739.5" x2="326.5" y2="739.5" stroke="#000" stroke-width="1.5" />
<text transform="translate(320.5 743.7)" font-size="9.6" text-anchor="end" font-weight="normal" fill="#0a0a0a" stroke="#0a0a0a" stroke-width="0.32" >1&#215;10<tspan font-size="6.4" dy="-2.8">04</tspan><tspan dy="2.8" font-size="1">&#8203;</tspan></text>
<line x1="321.1" y1="781.5" x2="326.5" y2="781.5" stroke="#000" stroke-width="1.5" />
<text transform="translate(321.9 785.7)" font-size="9.6" text-anchor="end" font-weight="normal" fill="#0a0a0a" stroke="#0a0a0a" stroke-width="0.32" >0</text>
<line x1="349.8" y1="781.5" x2="349.8" y2="785.9" stroke="#000" stroke-width="1.5" />
<line x1="397.2" y1="781.5" x2="397.2" y2="785.9" stroke="#000" stroke-width="1.5" />
<line x1="444.5" y1="781.5" x2="444.5" y2="785.9" stroke="#000" stroke-width="1.5" />
<line x1="491.8" y1="781.5" x2="491.8" y2="785.9" stroke="#000" stroke-width="1.5" />
<line x1="334.2" y1="703.8" x2="365.4" y2="703.8" stroke="#000" stroke-width="1.3" />
<line x1="381.5" y1="766.5" x2="413.1" y2="766.5" stroke="#000" stroke-width="1.3" />
<line x1="428.8" y1="770.8" x2="460.4" y2="770.8" stroke="#000" stroke-width="1.3" />
<line x1="475.8" y1="752.7" x2="507.3" y2="752.7" stroke="#000" stroke-width="1.3" />
<circle cx="349.6" cy="677.7" r="2.6" fill="#000"/>
<circle cx="349.6" cy="700" r="2.6" fill="#000"/>
<circle cx="349.6" cy="707.8" r="2.6" fill="#000"/>
<circle cx="349.6" cy="729.6" r="2.6" fill="#000"/>
<circle cx="396.9" cy="759.2" r="2.55" fill="none" stroke="#000" stroke-width="1.4"/>
<circle cx="389.2" cy="766.2" r="2.55" fill="none" stroke="#000" stroke-width="1.4"/>
<circle cx="404.2" cy="769.2" r="2.55" fill="none" stroke="#000" stroke-width="1.4"/>
<circle cx="396.9" cy="770.4" r="2.55" fill="none" stroke="#000" stroke-width="1.4"/>
<rect x="437.7" y="761.5" width="5.4" height="5.4" fill="#000"/>
<rect x="445.40000000000003" y="764.5999999999999" width="5.4" height="5.4" fill="#000"/>
<rect x="445.40000000000003" y="773.5" width="5.4" height="5.4" fill="#000"/>
<rect x="437.7" y="775.8" width="5.4" height="5.4" fill="#000"/>
<rect x="489.2" y="740.8000000000001" width="4.6" height="4.6" fill="none" stroke="#000" stroke-width="1.3"/>
<rect x="485.4" y="745.0" width="4.6" height="4.6" fill="none" stroke="#000" stroke-width="1.3"/>
<rect x="493.09999999999997" y="747.3000000000001" width="4.6" height="4.6" fill="none" stroke="#000" stroke-width="1.3"/>
<rect x="489.2" y="768.5" width="4.6" height="4.6" fill="none" stroke="#000" stroke-width="1.3"/>
<line x1="347.7" y1="670" x2="399.6" y2="670" stroke="#000" stroke-width="1.7" />
<text transform="translate(373.8 668)" font-size="11" text-anchor="middle" font-weight="normal" fill="#0a0a0a" stroke="#0a0a0a" stroke-width="0.32" letter-spacing="0.7">**</text>
<line x1="440" y1="733.5" x2="491.9" y2="733.5" stroke="#000" stroke-width="1.7" />
<text transform="translate(464.3 732)" font-size="11" text-anchor="middle" font-weight="normal" fill="#0a0a0a" stroke="#0a0a0a" stroke-width="0.32" >*</text>
<text transform="translate(279.6 717.6) rotate(-90) scale(1.0422 1)" font-size="10" text-anchor="middle" font-weight="normal" fill="#0a0a0a" stroke="#0a0a0a" stroke-width="0.32" >Total Ki-67<tspan font-size="6.5" dy="-4.3">+</tspan><tspan dy="4.3" font-size="1">&#8203;</tspan></text>
<text transform="translate(351.40000000000003 795.6) rotate(-30)" font-size="9.8" text-anchor="end" font-weight="normal" fill="#0a0a0a" stroke="#0a0a0a" stroke-width="0.32" >WT IgG</text>
<text transform="translate(398.8 795.6) rotate(-30)" font-size="9.8" text-anchor="end" font-weight="normal" fill="#0a0a0a" stroke="#0a0a0a" stroke-width="0.32" >Tim-3<tspan font-size="6.8" dy="-3.4">-/-</tspan><tspan dy="3.4" font-size="1">&#8203;</tspan> IgG</text>
<text transform="translate(446.1 795.6) rotate(-30)" font-size="9.8" text-anchor="end" font-weight="normal" fill="#0a0a0a" stroke="#0a0a0a" stroke-width="0.32" >WT &#945;IFN-&#947;</text>
<text transform="translate(493.40000000000003 795.6) rotate(-30)" font-size="9.8" text-anchor="end" font-weight="normal" fill="#0a0a0a" stroke="#0a0a0a" stroke-width="0.32" >Tim-3<tspan font-size="6.8" dy="-3.4">-/-</tspan><tspan dy="3.4" font-size="1">&#8203;</tspan> &#945;IFN-&#947;</text>
</g>
</svg>
</body></html>
